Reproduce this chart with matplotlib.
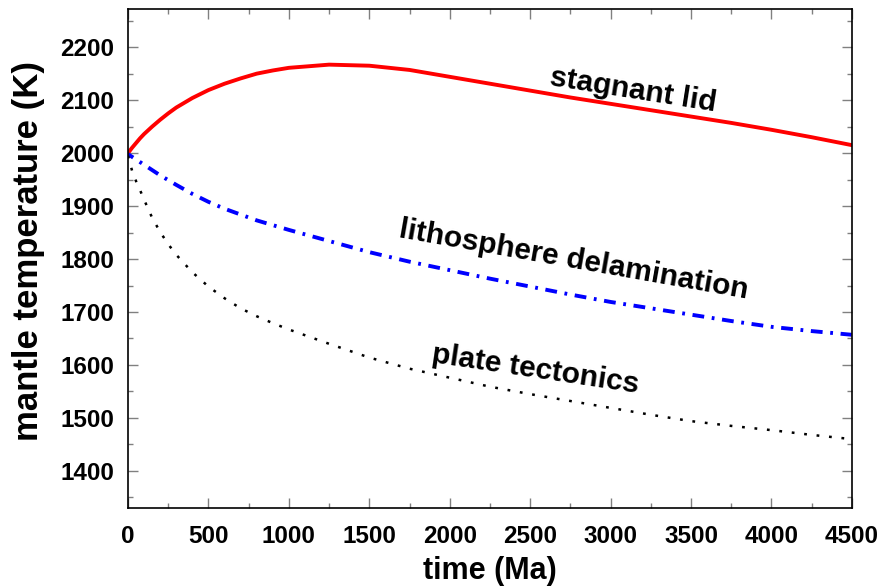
import matplotlib
matplotlib.use("Agg")
import matplotlib.pyplot as plt
from matplotlib.ticker import MultipleLocator

plt.rcParams.update({"font.family": ["Liberation Sans", "DejaVu Sans"],
                     "font.weight": "bold", "lines.scale_dashes": False})

# model output, time in Ma, mantle temperature in K
time_ma = [0, 25, 50, 75, 100, 150, 200, 250, 300, 400, 500, 600, 700, 800,
           900, 1000, 1250, 1500, 1750, 2000, 2250, 2500, 2750, 3000, 3250,
           3500, 3750, 4000, 4250, 4500]
stagnant_lid = [2000, 2010, 2019, 2028, 2036, 2050, 2063, 2075, 2086, 2104,
                2119, 2131, 2141, 2150, 2156, 2161, 2167, 2165, 2157, 2144,
                2131, 2118, 2105, 2093, 2081, 2069, 2057, 2044, 2030, 2015]
delamination = [1998, 1993, 1988, 1983, 1978, 1968, 1958, 1949, 1940, 1923,
                1908, 1895, 1884, 1873, 1864, 1855, 1834, 1813, 1795, 1779,
                1763, 1748, 1733, 1719, 1707, 1695, 1683, 1672, 1664, 1657]
plate_tectonics = [1995, 1967, 1947, 1930, 1912, 1878, 1851, 1828, 1808, 1775,
                   1748, 1726, 1707, 1692, 1679, 1667, 1640, 1614, 1593, 1576,
                   1559, 1545, 1532, 1519, 1506, 1494, 1485, 1477, 1468, 1460]

fig = plt.figure(figsize=(8.81, 5.86), dpi=100)
ax = fig.add_axes([0.1453, 0.1331, 0.8217, 0.8515])

ax.plot(time_ma, stagnant_lid, color="red", lw=2.8)
ax.plot(time_ma, delamination, color="blue", lw=2.8,
        linestyle=(4, (8.5, 5.5, 2, 5.5)))
ax.plot(time_ma, plate_tectonics, color="black", lw=1.8,
        linestyle=(0, (2, 7)))

lab = dict(fontsize=21.5, fontweight="bold", ha="center", va="center",
           rotation_mode="anchor")
ax.text(3139, 2119, "stagnant lid", rotation=-9, **lab)
ax.text(2772, 1798, "lithosphere delamination", rotation=-10, **lab)
ax.text(2530, 1591, "plate tectonics", rotation=-8.5, **lab)

ax.set_xlim(0, 4500)
ax.set_ylim(1330, 2272)
ax.xaxis.set_major_locator(MultipleLocator(500))
ax.xaxis.set_minor_locator(MultipleLocator(250))
ax.yaxis.set_major_locator(MultipleLocator(100))
ax.yaxis.set_minor_locator(MultipleLocator(50))
ax.tick_params(which="both", direction="in", top=True, right=True,
               color="#808080", width=1.0)
ax.tick_params(which="major", length=7, labelsize=17.5)
ax.tick_params(which="minor", length=3.5)
ax.tick_params(axis="x", which="major", pad=12)
ax.tick_params(axis="y", which="major", pad=10)
for lbl in ax.get_xticklabels() + ax.get_yticklabels():
    lbl.set_fontweight("bold")
for sp in ax.spines.values():
    sp.set_linewidth(1.2)

ax.set_xlabel("time (Ma)", fontsize=22, fontweight="bold", labelpad=6)
ax.set_ylabel("mantle temperature (K)", fontsize=25, fontweight="bold")
ax.yaxis.set_label_coords(-0.114, 0.515)

fig.savefig("out.png", dpi=100)
